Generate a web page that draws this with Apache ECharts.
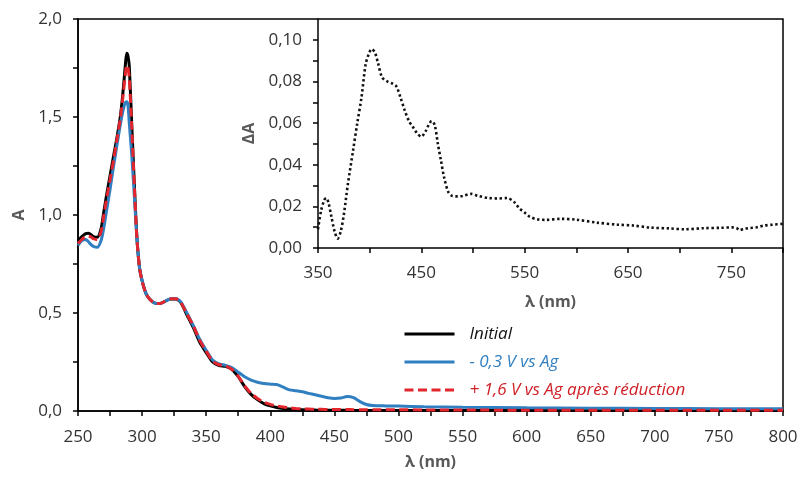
<!DOCTYPE html>
<html>
<head>
<meta charset="utf-8">
<script src="https://cdn.jsdelivr.net/npm/echarts@6/dist/echarts.min.js"></script>
<style>
  html, body { margin: 0; padding: 0; background: #fff; }
  #chart { width: 801px; height: 480px; }
</style>
</head>
<body>
<div id="chart"></div>
<script>
// ---- Main spectrum data (λ in nm, absorbance A) ----
var mainWl = [250,253,256,258,260,262,265,268,270,272,275,278,280,283,285,287,288,289,290,292,294,296,298,300,303,306,310,314,318,322,326,330,335,340,345,350,355,360,365,370,375,380,385,390,395,400,405,410,415,420,425,430,435,440,445,450,455,460,465,470,475,480,490,500,520,550,600,650,700,750,800];
var initialA = [0.87,0.89,0.905,0.907,0.9,0.89,0.886,0.93,1.01,1.09,1.2,1.31,1.38,1.5,1.62,1.77,1.825,1.81,1.76,1.45,1.15,0.88,0.73,0.665,0.6,0.57,0.55,0.548,0.56,0.572,0.572,0.555,0.49,0.425,0.35,0.298,0.25,0.232,0.228,0.212,0.175,0.125,0.085,0.058,0.038,0.026,0.018,0.013,0.01,0.008,0.006,0.005,0.0045,0.004,0.004,0.0035,0.0035,0.003,0.003,0.003,0.003,0.003,0.003,0.003,0.003,0.003,0.002,0.002,0.002,0.002,0.002];
var reducedA = [0.845,0.87,0.875,0.865,0.85,0.84,0.835,0.87,0.93,1.01,1.13,1.26,1.34,1.46,1.53,1.575,1.578,1.56,1.47,1.3,1.09,0.88,0.73,0.665,0.6,0.57,0.55,0.548,0.56,0.572,0.574,0.558,0.5,0.435,0.365,0.31,0.26,0.24,0.233,0.222,0.198,0.175,0.158,0.147,0.14,0.137,0.135,0.122,0.108,0.103,0.098,0.09,0.083,0.075,0.068,0.064,0.066,0.074,0.068,0.048,0.033,0.028,0.026,0.025,0.022,0.019,0.016,0.014,0.013,0.012,0.012];
var reoxidA = [0.855,0.875,0.89,0.892,0.888,0.88,0.875,0.915,0.99,1.07,1.18,1.29,1.37,1.49,1.6,1.72,1.765,1.75,1.7,1.44,1.14,0.875,0.73,0.662,0.6,0.57,0.55,0.548,0.56,0.572,0.573,0.556,0.495,0.435,0.36,0.305,0.255,0.236,0.23,0.213,0.177,0.128,0.09,0.064,0.045,0.034,0.026,0.02,0.016,0.013,0.011,0.01,0.009,0.0085,0.008,0.008,0.0075,0.0075,0.007,0.007,0.0065,0.0065,0.006,0.006,0.0055,0.005,0.004,0.004,0.004,0.004,0.004];

// ---- Inset difference spectrum data (λ in nm, ΔA) ----
var insetWl = [350,353,356,358,360,363,366,369,372,375,379,384,388,392,396,399,402,405,408,412,417,422,426,430,434,438,442,446,450,454,457,460,463,466,469,472,476,480,485,490,498,505,515,525,533,540,545,550,555,562,570,585,600,620,640,655,672,690,705,723,740,751,755,758,762,768,775,782,790,800];
var deltaA = [0.009,0.018,0.023,0.024,0.022,0.015,0.008,0.0045,0.008,0.016,0.031,0.047,0.06,0.072,0.088,0.093,0.0955,0.094,0.089,0.082,0.08,0.079,0.0775,0.072,0.066,0.061,0.058,0.055,0.0535,0.056,0.059,0.061,0.059,0.05,0.042,0.034,0.027,0.025,0.0248,0.025,0.026,0.025,0.024,0.0238,0.024,0.022,0.019,0.017,0.015,0.0138,0.0135,0.014,0.0136,0.0122,0.0112,0.0108,0.0098,0.0094,0.009,0.0095,0.0097,0.0099,0.0096,0.0086,0.0092,0.0096,0.01,0.0108,0.0112,0.0116];

// ---- Tick values / labels ----
var mainXTicks = [250,275,300,325,350,375,400,425,450,475,500,525,550,575,600,625,650,675,700,725,750,775,800];
var mainXLabels = [250,300,350,400,450,500,550,600,650,700,750,800];
var mainYTicks = [0,0.25,0.5,0.75,1.0,1.25,1.5,1.75,2.0];
var mainYLabels = [0,0.5,1.0,1.5,2.0];
var insetXTicks = [350,400,450,500,550,600,650,700,750,800];
var insetXLabels = [350,450,550,650,750];
var insetYTicks = [0,0.01,0.02,0.03,0.04,0.05,0.06,0.07,0.08,0.09,0.10];
var insetYLabels = [0,0.02,0.04,0.06,0.08,0.10];

var seriesNames = ['Initial', '- 0,3 V vs Ag', '+ 1,6 V vs Ag après réduction'];

function pairs(xs, ys) { return xs.map(function (x, i) { return [x, ys[i]]; }); }

var FONT = 'Open Sans';
var labelStyle = { color: '#333', fontSize: 17, fontFamily: FONT };
var nameStyle = { color: '#595959', fontSize: 16, fontWeight: 'bold', fontFamily: FONT };
var axisLine = { show: true, onZero: false, lineStyle: { color: '#000', width: 1.5 } };
var tick = function (vals) { return { show: true, inside: false, length: 5, customValues: vals, lineStyle: { color: '#000', width: 1.5 } }; };

var chart = echarts.init(document.getElementById('chart'), null, { renderer: 'canvas' });
chart.setOption({
  animation: false,
  backgroundColor: '#fff',
  grid: [
    { left: 78, top: 19, width: 705, height: 392, show: true, borderColor: '#000', borderWidth: 1.5, backgroundColor: 'transparent' },
    { left: 318, top: 19, width: 465, height: 229, show: false }
  ],
  xAxis: [
    {
      type: 'value', gridIndex: 0, min: 250, max: 800,
      name: 'λ (nm)', nameLocation: 'middle', nameGap: 43, nameTextStyle: nameStyle,
      axisLine: axisLine, axisTick: tick(mainXTicks),
      axisLabel: Object.assign({ customValues: mainXLabels, margin: 18, formatter: function (v) { return String(v); } }, labelStyle),
      splitLine: { show: false }
    },
    {
      type: 'value', gridIndex: 1, min: 350, max: 800,
      name: 'λ (nm)', nameLocation: 'middle', nameGap: 46, nameTextStyle: nameStyle,
      axisLine: axisLine, axisTick: tick(insetXTicks),
      axisLabel: Object.assign({ customValues: insetXLabels, margin: 17, formatter: function (v) { return String(v); } }, labelStyle),
      splitLine: { show: false }
    }
  ],
  yAxis: [
    {
      type: 'value', gridIndex: 0, min: 0, max: 2,
      name: 'A', nameLocation: 'middle', nameGap: 51, nameTextStyle: nameStyle,
      axisLine: axisLine, axisTick: tick(mainYTicks),
      axisLabel: Object.assign({ customValues: mainYLabels, margin: 16, formatter: function (v) { return v.toFixed(1).replace('.', ','); } }, labelStyle),
      splitLine: { show: false }
    },
    {
      type: 'value', gridIndex: 1, min: 0, max: 0.11,
      name: 'ΔA', nameLocation: 'middle', nameGap: 60, nameTextStyle: nameStyle,
      axisLine: axisLine, axisTick: tick(insetYTicks),
      axisLabel: Object.assign({ customValues: insetYLabels, margin: 16, formatter: function (v) { return v.toFixed(2).replace('.', ','); } }, labelStyle),
      splitLine: { show: false }
    }
  ],
  legend: {
    orient: 'vertical', left: 398, top: 319,
    itemWidth: 50, itemHeight: 14, itemGap: 8,
    itemStyle: { opacity: 0 },
    lineStyle: { width: 3 },
    textStyle: { fontSize: 17, fontStyle: 'italic', fontFamily: FONT, lineHeight: 20, padding: [0, 0, 0, 10] },
    data: [
      { name: seriesNames[0], textStyle: { color: '#111' } },
      { name: seriesNames[1], textStyle: { color: '#2f7fc1' } },
      { name: seriesNames[2], textStyle: { color: '#cf2027' } }
    ]
  },
  series: [
    {
      name: seriesNames[0], type: 'line', xAxisIndex: 0, yAxisIndex: 0,
      data: pairs(mainWl, initialA), symbol: 'none', smooth: 0.25,
      lineStyle: { color: '#000', width: 3 }, itemStyle: { color: '#000' }
    },
    {
      name: seriesNames[1], type: 'line', xAxisIndex: 0, yAxisIndex: 0,
      data: pairs(mainWl, reducedA), symbol: 'none', smooth: 0.25,
      lineStyle: { color: '#2f7fc1', width: 3 }, itemStyle: { color: '#2f7fc1' }
    },
    {
      name: seriesNames[2], type: 'line', xAxisIndex: 0, yAxisIndex: 0,
      data: pairs(mainWl, reoxidA), symbol: 'none', smooth: 0.25,
      lineStyle: { color: '#e3262d', width: 3, type: [9, 4.5] }, itemStyle: { color: '#e3262d' }
    },
    {
      name: 'ΔA', type: 'line', xAxisIndex: 1, yAxisIndex: 1,
      data: pairs(insetWl, deltaA), symbol: 'none', smooth: 0.3,
      lineStyle: { color: '#111', width: 2.6, type: [2.4, 2.6] }, itemStyle: { color: '#111' }
    }
  ]
});
</script>
</body>
</html>
